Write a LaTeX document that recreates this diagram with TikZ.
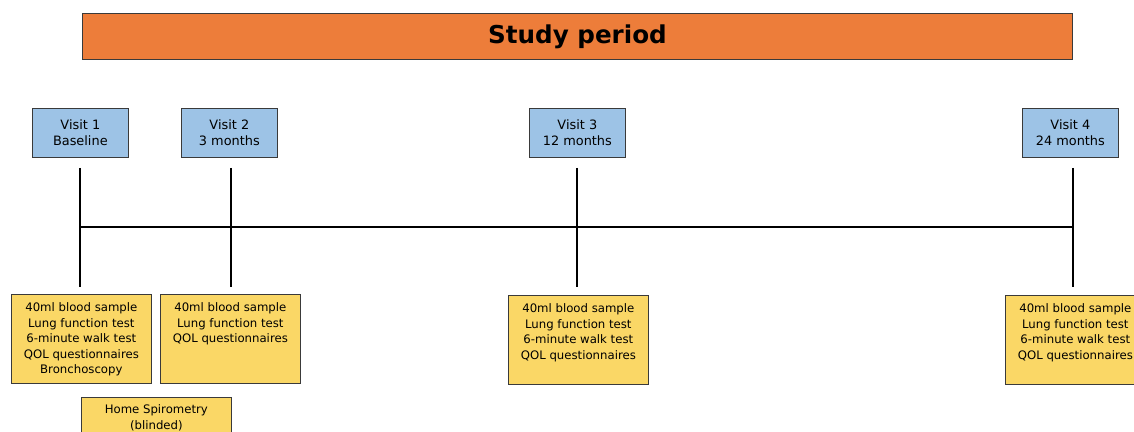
\documentclass[tikz,border=0pt]{standalone}
\usepackage{fontspec}
\setmainfont{DejaVu Sans}
\definecolor{studyorange}{HTML}{ED7D3A}
\definecolor{visitblue}{HTML}{9DC3E6}
\definecolor{actyellow}{HTML}{FAD766}
\definecolor{edgegrey}{HTML}{3A3A3A}
\tikzset{
  titlebox/.style={draw=edgegrey,fill=studyorange,line width=0.8pt,minimum width=29.7cm,minimum height=1.38cm,anchor=north west,font=\fontsize{21}{24}\selectfont\bfseries},
  visitbox/.style={draw=edgegrey,fill=visitblue,line width=0.6pt,minimum width=2.88cm,minimum height=1.47cm,anchor=north west,align=center,font=\fontsize{11}{14}\selectfont},
  actbox/.style={draw=edgegrey,fill=actyellow,line width=0.6pt,minimum width=4.2cm,minimum height=2.67cm,anchor=north west,inner sep=0pt,font=\fontsize{10}{13.2}\selectfont},
  spirobox/.style={actbox,minimum width=4.5cm,minimum height=1.5cm},
  tline/.style={line width=1.2pt,black}
}
\newcommand{\actlist}[2]{\parbox[t][#1][t]{4.1cm}{\centering\vspace{3.6pt}#2}}
\begin{document}
\begin{tikzpicture}[x=0.03cm,y=-0.03cm]
        \useasboundingbox(0,0)rectangle(1134,432);

        \node[titlebox](title)at(82,13){Study period};

        \node[visitbox](v1)at(32,108){Visit 1\\Baseline};
        \node[visitbox](v2)at(181,108){Visit 2\\3 months};
        \node[visitbox](v3)at(529,108){Visit 3\\12 months};
        \node[visitbox](v4)at(1022,108){Visit 4\\24 months};

        % timeline
        \coordinate(t1a)at(80,168);\coordinate(t1m)at(80,227);\coordinate(t1b)at(80,287);
        \coordinate(t2a)at(231,168);\coordinate(t2b)at(231,287);
        \coordinate(t3a)at(577,168);\coordinate(t3b)at(577,287);
        \coordinate(t4a)at(1073,168);\coordinate(t4m)at(1073,227);\coordinate(t4b)at(1073,287);
        \draw[tline](t1a)--(t1b);
        \draw[tline](t2a)--(t2b);
        \draw[tline](t3a)--(t3b);
        \draw[tline](t4a)--(t4b);
        \draw[tline](t1m)--(t4m);

        % assessments
        \node[actbox](a1)at(11,294){\actlist{2.4cm}{40ml blood sample\\Lung function test\\6-minute walk test\\QOL questionnaires\\Bronchoscopy}};
        \node[actbox](a2)at(160,294){\actlist{2.4cm}{40ml blood sample\\Lung function test\\QOL questionnaires}};
        \node[actbox](a3)at(508,295){\actlist{2.4cm}{40ml blood sample\\Lung function test\\6-minute walk test\\QOL questionnaires}};
        \node[actbox](a4)at(1005,295){\actlist{2.4cm}{40ml blood sample\\Lung function test\\6-minute walk test\\QOL questionnaires}};
        \node[spirobox](hs)at(81,397){\parbox[t][1.3cm][t]{4.3cm}{\centering\vspace{3.6pt}Home Spirometry\\(blinded)}};
\end{tikzpicture}
\end{document}
